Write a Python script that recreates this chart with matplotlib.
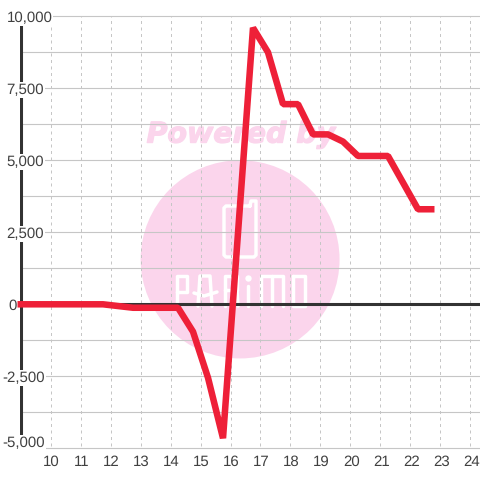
import matplotlib
matplotlib.use('Agg')
import matplotlib.pyplot as plt
import matplotlib.patheffects as pe
from matplotlib.patches import Ellipse

# data
hours = [8.9, 10.0, 11.0, 11.75, 12.75, 13.25, 14.25, 14.75, 15.25, 15.75, 16.75, 17.25, 17.75, 18.25,
         18.75, 19.25, 19.75, 20.25, 20.75, 21.25, 22.25, 22.8]
values = [0, 0, 0, 0, -120, -120, -120, -950, -2550, -4650, 9600, 8750, 6950, 6950,
          5900, 5900, 5650, 5150, 5150, 5150, 3300, 3300]
y_ticks = [10000, 7500, 5000, 2500, 0, -2500, -5000]
y_labels = ['10,000', '7,500', '5,000', '2,500', '0', '-2,500', '-5,000']
y_label_left = [6.5, 6.5, 6.5, 6.5, 8, 2.5, 2.5]
y_grid = [8750, 6250, 3750, 1250, -1250, -3750]
x_ticks = list(range(10, 25))

PINK = '#fbd5ec'
GREY = '#c6c6c6'
DARK = '#333333'
RED = '#ee2038'

# white logo strokes, in picture pixels
logo_strokes = [
    [(250, 206), (226, 206), (224, 208), (224, 255), (226, 257), (254, 257), (256, 255), (256, 201), (251, 201), (250, 206)],
    [(177, 306), (177, 276), (187, 276), (187, 292), (177, 292)],
    [(198, 306), (200, 276), (210, 276), (212, 306)],
    [(194, 293), (204, 296), (217, 292)],
    [(225, 306), (225, 276), (237, 276), (237, 290), (225, 290)],
    [(237, 290), (238, 306)],
    [(248, 286), (248, 306)],
    [(261, 306), (261, 276), (283, 276), (283, 306)],
    [(272, 276), (272, 306)],
    [(293, 276), (305, 276), (305, 306), (293, 306), (293, 276)],
]


def main():
    plt.rcParams['font.family'] = ['Liberation Sans', 'DejaVu Sans']
    plt.rcParams['text.hinting'] = 'no_hinting'
    fig = plt.figure(figsize=(4.8, 4.8), dpi=100)
    # pixel box of the plot: x 20-480, y 16-448
    ax = fig.add_axes([20 / 480, 1 - 448.3 / 480, 460 / 480, 432 / 480])
    ax.set_xlim(8.983, 24.317)
    ax.set_ylim(-5000, 10000)
    ax.axis('off')

    # watermark
    ax.add_patch(Ellipse((16.32, 1560), 6.63, 6880, color=PINK, lw=0, zorder=1))
    ax.text(16.35, 5880, 'Powered by', color=PINK, fontsize=20.5, fontweight='bold', fontstyle='italic',
            ha='center', va='center', family='DejaVu Sans', zorder=1,
            path_effects=[pe.withStroke(linewidth=0.9, foreground=PINK)])
    for stroke in logo_strokes:
        xs = [p[0] / 480 for p in stroke]
        ys = [1 - p[1] / 480 for p in stroke]
        ax.plot(xs, ys, color='white', lw=2.5, transform=fig.transFigure, solid_capstyle='round',
                solid_joinstyle='round', zorder=1.5)
    ax.plot([248 / 480], [1 - 278 / 480], 'o', color='white', ms=4.6, mew=0, transform=fig.transFigure, zorder=1.5)

    # grid
    for t in x_ticks:
        ax.plot([t, t], [-4930, 10000], color=GREY, lw=0.72, dashes=(3, 3.5), zorder=2)
    for v in y_ticks + y_grid:
        if v != 0:
            ax.plot([9.05, 24.317], [v, v], color=GREY, lw=0.8, zorder=2, clip_on=False)

    # dark axes
    ax.plot([9.007, 9.007], [-5000, 9720], color=DARK, lw=2.2, solid_capstyle='butt', zorder=3)
    ax.plot([9.007, 24.317], [0, 0], color=DARK, lw=2.2, solid_capstyle='butt', zorder=3)

    # labels
    for v, lab, left in zip(y_ticks, y_labels, y_label_left):
        y = v if v != -5000 else -4760
        ax.text(8.983 + (left - 20) / 30, y, lab, ha='left', va='center_baseline', fontsize=10.8, color='#404040',
                zorder=4, clip_on=False, bbox=dict(fc='white', ec='none', pad=0.8))
    for t in x_ticks:
        ax.text(t + 0.03, -5430, str(t), ha='center', va='center_baseline', fontsize=10.8, color='#404040', zorder=4,
                clip_on=False)

    # series
    ax.plot(hours, values, color=RED, lw=4.7, solid_joinstyle='bevel', solid_capstyle='butt', zorder=5, clip_on=False)

    fig.savefig('out.png', dpi=100, facecolor='white')


if __name__ == '__main__':
    main()
